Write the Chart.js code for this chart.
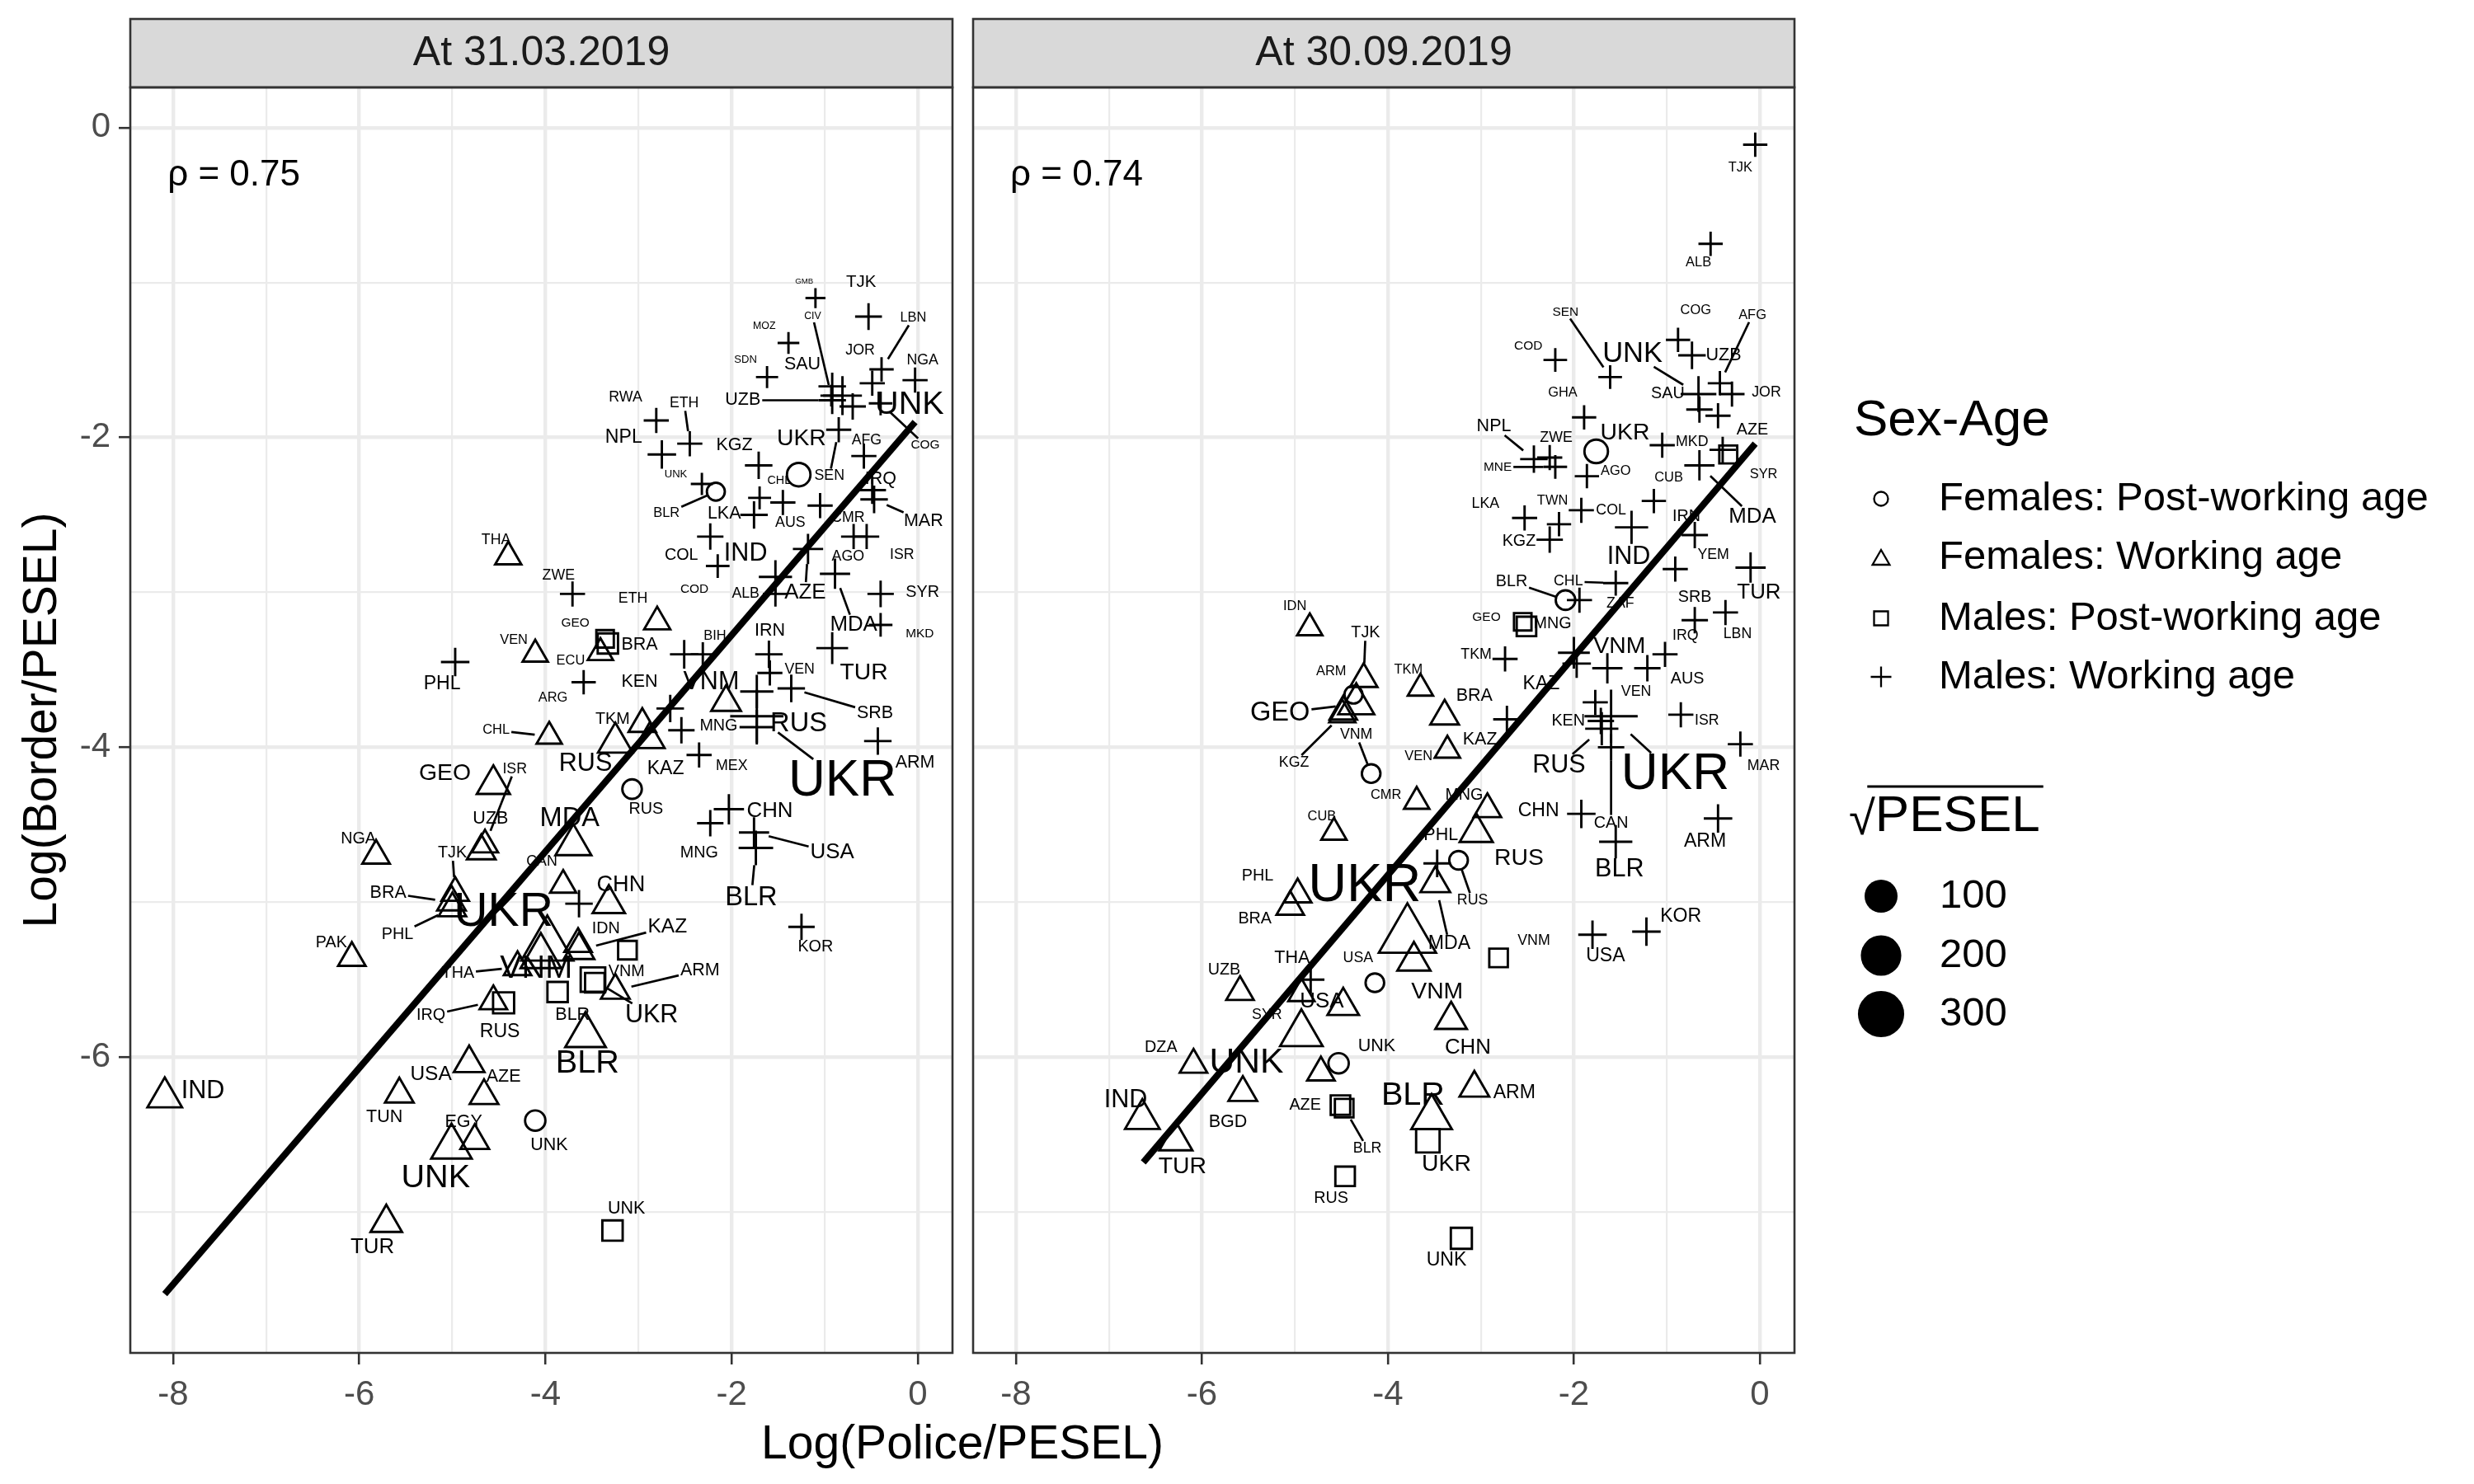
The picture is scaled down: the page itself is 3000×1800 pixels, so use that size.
<!DOCTYPE html>
<html>
<head>
<meta charset="utf-8">
<script src="https://cdn.jsdelivr.net/npm/chart.js@4.4.1/dist/chart.umd.min.js"></script>
<style>
  html, body { margin: 0; padding: 0; background: #ffffff; }
  #wrap { position: relative; width: 3000px; height: 1800px; background: #ffffff; }
  #wrap canvas { position: absolute; left: 0; top: 0; width: 3000px; height: 1800px; }
</style>
</head>
<body>
<div id="wrap">
  <canvas id="march" width="3000" height="1800"></canvas>
  <canvas id="sept" width="3000" height="1800"></canvas>
</div>
<script>
const FONT = '"Liberation Sans", Arial, Helvetica, sans-serif';

const panelTitles = ['At 31.03.2019', 'At 30.09.2019'];
const rhoLabels = ['\u03C1 = 0.75', '\u03C1 = 0.74'];
const groupNames = ['Females: Post-working age', 'Females: Working age', 'Males: Post-working age', 'Males: Working age'];
const groupShapes = ['circle', 'triangle', 'rect', 'cross'];
const xTicks = [-8, -6, -4, -2, 0];
const yTicks = [0, -2, -4, -6];
const sizeBreaks = [100, 200, 300];

// [country, log(police/pesel), log(border/pesel), sqrt(pesel), label x, label y]
const marFemPost = [
  ['UKR', -1.28, -2.24, 50, -1.25, -2.01],
  ['BLR', -2.17, -2.35, 12, -2.70, -2.49],
  ['RUS', -3.07, -4.27, 20, -2.92, -4.40],
  ['UNK', -4.11, -6.41, 25, -3.96, -6.57]
];
const marFemWork = [
  ['THA', -4.40, -2.77, 15, -4.53, -2.66],
  ['ETH', -2.80, -3.19, 15, -3.06, -3.04],
  ['ECU', -3.41, -3.39, 12, -3.73, -3.44],
  ['VEN', -4.11, -3.40, 12, -4.34, -3.31],
  ['', -2.06, -3.71, 30],
  ['TKM', -2.96, -3.85, 20, -3.28, -3.82],
  ['CHL', -3.96, -3.93, 12, -4.53, -3.89],
  ['RUS', -3.25, -3.97, 60, -3.57, -4.11],
  ['KAZ', -2.88, -3.95, 30, -2.71, -4.14],
  ['GEO', -4.56, -4.24, 50, -5.08, -4.17],
  ['ISR', -4.65, -4.63, 15, -4.33, -4.14],
  ['UZB', -4.69, -4.67, 25, -4.59, -4.46],
  ['MDA', -3.70, -4.63, 70, -3.74, -4.46],
  ['NGA', -5.82, -4.70, 20, -6.01, -4.59],
  ['TJK', -4.97, -4.94, 20, -5.00, -4.68],
  ['CAN', -3.81, -4.89, 15, -4.04, -4.74],
  ['CHN', -3.32, -5.01, 45, -3.19, -4.89],
  ['BRA', -5.01, -5.00, 25, -5.69, -4.94],
  ['PHL', -5.00, -5.04, 20, -5.59, -5.21],
  ['UKR', -3.98, -5.28, 250, -4.45, -5.07],
  ['PAK', -6.08, -5.36, 20, -6.30, -5.26],
  ['IDN', -3.65, -5.27, 20, -3.35, -5.17],
  ['KAZ', -3.64, -5.31, 35, -2.69, -5.16],
  ['THA', -4.30, -5.42, 20, -4.94, -5.46],
  ['VNM', -4.05, -5.35, 110, -4.10, -5.43],
  ['ARM', -3.25, -5.57, 25, -2.34, -5.44],
  ['IRQ', -4.56, -5.64, 20, -5.23, -5.73],
  ['BLR', -3.57, -5.86, 110, -3.55, -6.04],
  ['USA', -4.82, -6.04, 35, -5.23, -6.11],
  ['AZE', -4.66, -6.25, 25, -4.45, -6.13],
  ['IND', -8.09, -6.26, 60, -7.68, -6.22],
  ['TUN', -5.57, -6.24, 25, -5.73, -6.39],
  ['EGY', -4.76, -6.54, 25, -4.88, -6.42],
  ['UNK', -5.01, -6.58, 110, -5.18, -6.78],
  ['TUR', -5.71, -7.07, 40, -5.86, -7.23]
];
const marMalePost = [
  ['BRA', -3.33, -3.33, 25, -2.99, -3.34],
  ['GEO', -3.36, -3.30, 10, -3.68, -3.20],
  ['', -3.12, -5.31, 15],
  ['UKR', -3.49, -5.50, 60, -2.86, -5.73],
  ['VNM', -3.47, -5.52, 20, -3.13, -5.45],
  ['BLR', -3.87, -5.58, 25, -3.71, -5.73],
  ['RUS', -4.45, -5.65, 30, -4.49, -5.84],
  ['UNK', -3.28, -7.12, 25, -3.13, -6.98]
];
const marMaleWork = [
  ['GMB', -1.10, -1.10, 2, -1.22, -0.99],
  ['TJK', -0.53, -1.22, 22, -0.61, -1.00],
  ['MOZ', -1.39, -1.39, 5, -1.65, -1.28],
  ['SDN', -1.62, -1.61, 6, -1.85, -1.50],
  ['SAU', -0.92, -1.67, 25, -1.24, -1.53],
  ['CIV', -0.93, -1.73, 5, -1.13, -1.22],
  ['JOR', -0.49, -1.65, 15, -0.62, -1.44],
  ['LBN', -0.39, -1.56, 12, -0.05, -1.23],
  ['NGA', -0.03, -1.63, 15, 0.05, -1.50],
  ['UZB', -0.92, -1.76, 25, -1.88, -1.76],
  ['UNK', -0.81, -1.73, 110, -0.09, -1.79],
  ['COG', -0.40, -1.78, 10, 0.08, -2.05],
  ['', -0.70, -1.80, 20],
  ['RWA', -2.81, -1.89, 15, -3.14, -1.74],
  ['ETH', -2.45, -2.04, 15, -2.51, -1.78],
  ['NPL', -2.75, -2.11, 30, -3.16, -2.00],
  ['KGZ', -1.71, -2.18, 25, -1.97, -2.05],
  ['SEN', -0.85, -1.95, 15, -0.95, -2.25],
  ['AFG', -0.58, -2.12, 15, -0.55, -2.02],
  ['IRQ', -0.49, -2.34, 25, -0.40, -2.27],
  ['MAR', -0.47, -2.40, 25, 0.06, -2.54],
  ['UNK', -2.32, -2.30, 6, -2.60, -2.24],
  ['CHL', -1.70, -2.39, 8, -1.49, -2.28],
  ['LKA', -1.76, -2.50, 25, -2.08, -2.49],
  ['AUS', -1.45, -2.42, 15, -1.37, -2.55],
  ['CMR', -1.05, -2.44, 15, -0.75, -2.52],
  ['AGO', -0.69, -2.64, 15, -0.75, -2.77],
  ['ISR', -0.55, -2.64, 15, -0.17, -2.76],
  ['COL', -2.23, -2.64, 20, -2.54, -2.76],
  ['COD', -2.15, -2.83, 10, -2.40, -2.98],
  ['IND', -1.53, -2.90, 60, -1.85, -2.75],
  ['AZE', -1.18, -2.72, 40, -1.21, -3.00],
  ['ALB', -1.53, -3.01, 15, -1.85, -3.01],
  ['MDA', -0.89, -2.88, 40, -0.69, -3.21],
  ['SYR', -0.40, -3.01, 20, 0.05, -3.00],
  ['MKD', -0.40, -3.21, 10, 0.02, -3.27],
  ['ZWE', -3.71, -3.01, 15, -3.86, -2.89],
  ['PHL', -4.97, -3.45, 30, -5.11, -3.59],
  ['ARG', -3.59, -3.58, 12, -3.92, -3.68],
  ['BIH', -2.31, -3.40, 12, -2.18, -3.28],
  ['', -2.51, -3.40, 30],
  ['KEN', -2.66, -3.75, 25, -2.99, -3.58],
  ['IRN', -1.60, -3.40, 25, -1.59, -3.25],
  ['TUR', -0.92, -3.36, 50, -0.58, -3.52],
  ['VNM', -1.73, -3.64, 60, -2.22, -3.58],
  ['VEN', -1.59, -3.52, 15, -1.27, -3.50],
  ['SRB', -1.36, -3.62, 25, -0.46, -3.78],
  ['MNG', -2.54, -3.89, 20, -2.14, -3.86],
  ['RUS', -1.73, -3.87, 70, -1.28, -3.85],
  ['UKR', -1.73, -3.80, 300, -0.81, -4.22],
  ['ARM', -0.43, -3.96, 25, -0.03, -4.10],
  ['MEX', -2.35, -4.05, 15, -2.00, -4.12],
  ['CHN', -2.03, -4.40, 40, -1.59, -4.41],
  ['MNG', -2.23, -4.49, 20, -2.35, -4.68],
  ['USA', -1.76, -4.55, 40, -0.92, -4.68],
  ['BLR', -1.74, -4.65, 70, -1.79, -4.97],
  ['KOR', -1.25, -5.16, 20, -1.10, -5.29],
  ['', -3.64, -5.01, 25]
];

const sepFemPost = [
  ['UKR', -1.76, -2.09, 50, -1.45, -1.97],
  ['BLR', -2.09, -3.05, 20, -2.67, -2.93],
  ['ARM', -4.37, -3.66, 12, -4.61, -3.51],
  ['VNM', -4.18, -4.17, 15, -4.34, -3.92],
  ['RUS', -3.24, -4.73, 15, -3.09, -4.99],
  ['USA', -4.14, -5.52, 15, -4.32, -5.36],
  ['UNK', -4.53, -6.04, 25, -4.12, -5.93]
];
const sepFemWork = [
  ['IDN', -4.84, -3.23, 12, -5.00, -3.09],
  ['TJK', -4.26, -3.56, 20, -4.24, -3.26],
  ['GEO', -4.34, -3.72, 70, -5.16, -3.78],
  ['', -4.48, -3.77, 20],
  ['KGZ', -4.49, -3.79, 15, -5.01, -4.10],
  ['TKM', -3.65, -3.62, 12, -3.78, -3.50],
  ['BRA', -3.39, -3.80, 25, -3.07, -3.67],
  ['VEN', -3.36, -4.02, 12, -3.67, -4.06],
  ['CMR', -3.69, -4.35, 12, -4.02, -4.31],
  ['MNG', -2.93, -4.40, 20, -3.18, -4.31],
  ['RUS', -3.05, -4.55, 50, -2.59, -4.72],
  ['CUB', -4.58, -4.55, 12, -4.71, -4.45],
  ['MDA', -3.49, -4.88, 30, -3.34, -5.27],
  ['PHL', -4.97, -4.95, 20, -5.40, -4.83],
  ['BRA', -5.05, -5.03, 20, -5.43, -5.11],
  ['UKR', -3.79, -5.22, 330, -4.25, -4.90],
  ['VNM', -3.72, -5.38, 50, -3.47, -5.58],
  ['UZB', -5.59, -5.58, 20, -5.76, -5.44],
  ['SYR', -4.93, -5.59, 15, -5.30, -5.73],
  ['USA', -4.48, -5.67, 40, -4.71, -5.64],
  ['CHN', -3.32, -5.76, 40, -3.14, -5.94],
  ['UNK', -4.93, -5.85, 130, -5.52, -6.04],
  ['DZA', -6.09, -6.05, 20, -6.44, -5.94],
  ['', -4.72, -6.10, 20],
  ['ARM', -3.07, -6.20, 30, -2.64, -6.23],
  ['BGD', -5.56, -6.23, 25, -5.72, -6.42],
  ['BLR', -3.53, -6.39, 110, -3.73, -6.25],
  ['IND', -6.64, -6.40, 60, -6.82, -6.28],
  ['TUR', -6.28, -6.54, 50, -6.21, -6.71]
];
const sepMalePost = [
  ['SYR', -0.34, -2.11, 12, 0.04, -2.24],
  ['GEO', -2.55, -3.19, 10, -2.94, -3.16],
  ['MNG', -2.51, -3.22, 20, -2.23, -3.20],
  ['VNM', -2.81, -5.36, 15, -2.43, -5.25],
  ['AZE', -4.51, -6.31, 20, -4.89, -6.31],
  ['BLR', -4.47, -6.33, 15, -4.22, -6.59],
  ['UKR', -3.57, -6.54, 50, -3.37, -6.69],
  ['RUS', -4.46, -6.77, 20, -4.61, -6.91],
  ['UNK', -3.21, -7.17, 30, -3.37, -7.31]
];
const sepMaleWork = [
  ['TJK', -0.05, -0.11, 12, -0.21, -0.26],
  ['ALB', -0.53, -0.75, 12, -0.66, -0.87],
  ['SEN', -1.61, -1.61, 10, -2.09, -1.19],
  ['COG', -0.88, -1.37, 12, -0.69, -1.18],
  ['AFG', -0.43, -1.65, 12, -0.08, -1.21],
  ['UZB', -0.73, -1.47, 25, -0.39, -1.47],
  ['UNK', -0.66, -1.72, 80, -1.37, -1.46],
  ['COD', -2.20, -1.50, 10, -2.49, -1.41],
  ['SAU', -0.65, -1.82, 20, -0.99, -1.72],
  ['JOR', -0.30, -1.72, 15, 0.07, -1.71],
  ['', -0.45, -1.86, 15],
  ['GHA', -1.89, -1.87, 12, -2.12, -1.71],
  ['NPL', -2.43, -2.14, 25, -2.86, -1.93],
  ['ZWE', -2.26, -2.13, 15, -2.19, -2.00],
  ['MNE', -2.20, -2.19, 10, -2.82, -2.19],
  ['AGO', -1.86, -2.25, 12, -1.55, -2.22],
  ['MKD', -1.05, -2.05, 15, -0.73, -2.03],
  ['AZE', -0.40, -2.08, 20, -0.08, -1.95],
  ['MDA', -0.65, -2.18, 40, -0.08, -2.51],
  ['CUB', -1.14, -2.41, 12, -0.98, -2.26],
  ['LKA', -2.53, -2.52, 15, -2.95, -2.43],
  ['TWN', -2.16, -2.56, 12, -2.23, -2.41],
  ['COL', -1.92, -2.47, 15, -1.60, -2.47],
  ['KGZ', -2.26, -2.66, 20, -2.59, -2.67],
  ['IRN', -0.70, -2.63, 20, -0.79, -2.51],
  ['IND', -1.38, -2.58, 60, -1.41, -2.77],
  ['YEM', -0.91, -2.85, 15, -0.50, -2.76],
  ['TUR', -0.10, -2.84, 40, -0.01, -3.00],
  ['CHL', -1.55, -2.94, 15, -2.06, -2.93],
  ['ZAF', -1.94, -3.05, 15, -1.50, -3.07],
  ['SRB', -0.70, -3.18, 20, -0.70, -3.03],
  ['LBN', -0.37, -3.13, 15, -0.24, -3.27],
  ['IRQ', -1.02, -3.40, 15, -0.80, -3.28],
  ['TKM', -2.74, -3.43, 15, -3.05, -3.40],
  ['VNM', -2.00, -3.39, 50, -1.51, -3.35],
  ['KAZ', -1.97, -3.46, 30, -2.35, -3.59],
  ['', -1.64, -3.49, 40],
  ['AUS', -1.21, -3.49, 20, -0.78, -3.56],
  ['VEN', -1.77, -3.71, 15, -1.33, -3.64],
  ['KEN', -1.71, -3.83, 20, -2.06, -3.83],
  ['UKR', -1.60, -3.80, 300, -0.91, -4.18],
  ['ISR', -0.85, -3.79, 15, -0.57, -3.83],
  ['MAR', -0.21, -3.98, 15, 0.04, -4.12],
  ['RUS', -1.70, -3.88, 60, -2.16, -4.12],
  ['CAN', -1.60, -4.00, 20, -1.60, -4.49],
  ['CHN', -1.92, -4.43, 30, -2.38, -4.41],
  ['BLR', -1.55, -4.61, 60, -1.51, -4.79],
  ['ARM', -0.45, -4.46, 30, -0.59, -4.61],
  ['KOR', -1.22, -5.19, 30, -0.85, -5.09],
  ['USA', -1.80, -5.21, 30, -1.66, -5.35],
  ['KAZ', -2.72, -3.82, 25, -3.01, -3.95],
  ['PHL', -3.47, -4.75, 25, -3.43, -4.57],
  ['THA', -4.83, -5.50, 25, -5.03, -5.36]
];

// fitted lines (ends)
const marFitX = [-8.09, -0.03];
const marFitY = [-7.53, -1.90];
const sepFitX = [-6.63, -0.05];
const sepFitY = [-6.68, -2.04];

const xRange = [-8.46, 0.372];
const yRange = [-7.91, 0.26];
const rhoPos = [-8.06, -0.31];

// mark size ~ sqrt(PESEL)
function baseR(s) { return 9 + 1.1 * Math.sqrt(s); }
const shapeFactor = { circle: 0.85, triangle: 1.38, rect: 1.2, cross: 1.15 };
function markR(s, shape) { return baseR(s) * shapeFactor[shape]; }
function labelFont(s) { return 5 + 3.3 * Math.sqrt(s); }

function drawLabels(chart) {
  const ctx = chart.ctx, xs = chart.scales.x, ys = chart.scales.y;
  const items = [];
  chart.data.datasets.forEach(ds => {
    if (!ds.isGroup) return;
    ds.data.forEach(p => {
      if (!p.code) return;
      const fs = labelFont(p.s);
      ctx.font = fs + 'px ' + FONT;
      items.push({
        code: p.code, fs,
        px: xs.getPixelForValue(p.x), py: ys.getPixelForValue(p.y),
        lx: xs.getPixelForValue(p.lx), ly: ys.getPixelForValue(p.ly),
        w: ctx.measureText(p.code).width / 2 + 2, h: fs * 0.4 + 2,
        mr: markR(p.s, ds.pointStyle)
      });
    });
  });
  ctx.save();
  ctx.strokeStyle = '#000000';
  ctx.lineWidth = 2.7;
  items.forEach(it => {
    const dx = it.px - it.lx, dy = it.py - it.ly, len = Math.hypot(dx, dy);
    if (!len) return;
    const t = Math.min(dx ? it.w / Math.abs(dx) : Infinity, dy ? it.h / Math.abs(dy) : Infinity);
    if (t >= 1) return;
    const segLen = len * (1 - t) - it.mr;
    if (segLen < 18) return;
    ctx.beginPath();
    ctx.moveTo(it.lx + dx * t, it.ly + dy * t);
    ctx.lineTo(it.px - dx / len * it.mr, it.py - dy / len * it.mr);
    ctx.stroke();
  });
  ctx.fillStyle = '#000000';
  ctx.textAlign = 'center';
  ctx.textBaseline = 'middle';
  items.forEach(it => {
    ctx.font = it.fs + 'px ' + FONT;
    ctx.fillText(it.code, it.lx, it.ly);
  });
  ctx.restore();
}

function drawKey(ctx, shape, x, y, r) {
  ctx.beginPath();
  if (shape === 'circle') {
    ctx.arc(x, y, r, 0, Math.PI * 2);
  } else if (shape === 'triangle') {
    ctx.moveTo(x, y - r);
    ctx.lineTo(x + r * 0.866, y + r * 0.5);
    ctx.lineTo(x - r * 0.866, y + r * 0.5);
    ctx.closePath();
  } else if (shape === 'rect') {
    ctx.rect(x - r, y - r, 2 * r, 2 * r);
  } else {
    ctx.moveTo(x - r, y); ctx.lineTo(x + r, y);
    ctx.moveTo(x, y - r); ctx.lineTo(x, y + r);
  }
  ctx.stroke();
}

function drawLegend(ctx) {
  ctx.save();
  ctx.fillStyle = '#000000';
  ctx.strokeStyle = '#000000';
  ctx.textAlign = 'left';
  ctx.textBaseline = 'middle';
  ctx.font = '62px ' + FONT;
  ctx.fillText('Sex-Age', 2248, 511);
  const rowsY = [605, 676, 750, 821];
  const keyR = { circle: 8.5, triangle: 12, rect: 8.5, cross: 12.5 };
  ctx.lineWidth = 2.3;
  groupNames.forEach((name, i) => {
    drawKey(ctx, groupShapes[i], 2281, rowsY[i] + (groupShapes[i] === 'triangle' ? 3 : 0), keyR[groupShapes[i]]);
    ctx.font = '49px ' + FONT;
    ctx.fillText(name, 2351, rowsY[i]);
  });
  // sqrt(PESEL) title
  ctx.font = '58px ' + FONT;
  ctx.fillText('\u221A', 2242, 996);
  const rootW = ctx.measureText('\u221A').width;
  ctx.font = '62px ' + FONT;
  ctx.fillText('PESEL', 2242 + rootW, 991);
  const peselW = ctx.measureText('PESEL').width;
  ctx.lineWidth = 3;
  ctx.beginPath();
  ctx.moveTo(2242 + rootW * 0.7, 954);
  ctx.lineTo(2242 + rootW + peselW + 4, 954);
  ctx.stroke();
  const sizeY = [1087, 1159, 1230];
  sizeBreaks.forEach((v, i) => {
    ctx.beginPath();
    ctx.arc(2281, sizeY[i], baseR(v), 0, Math.PI * 2);
    ctx.fill();
    ctx.font = '49px ' + FONT;
    ctx.fillText(String(v), 2352, sizeY[i]);
  });
  ctx.restore();
}

function facetPlugin(panel) {
  return {
    id: 'facet' + panel,
    beforeDatasetDraw(chart, args) {
      if (!chart.data.datasets[args.index].isGroup) drawLabels(chart);
    },
    afterDraw(chart) {
      const ctx = chart.ctx, a = chart.chartArea;
      ctx.save();
      // strip
      ctx.fillStyle = '#D9D9D9';
      ctx.fillRect(a.left, 23, a.right - a.left, a.top - 23);
      ctx.strokeStyle = '#333333';
      ctx.lineWidth = 2.6;
      ctx.strokeRect(a.left, 23, a.right - a.left, a.top - 23);
      ctx.fillStyle = '#1A1A1A';
      ctx.font = '50px ' + FONT;
      ctx.textAlign = 'center';
      ctx.textBaseline = 'middle';
      ctx.fillText(panelTitles[panel], (a.left + a.right) / 2, (23 + a.top) / 2 + 1);
      // panel border
      ctx.strokeRect(a.left, a.top, a.right - a.left, a.bottom - a.top);
      // rho
      ctx.fillStyle = '#000000';
      ctx.font = '44px ' + FONT;
      ctx.textAlign = 'left';
      ctx.fillText(rhoLabels[panel], chart.scales.x.getPixelForValue(rhoPos[0]), chart.scales.y.getPixelForValue(rhoPos[1]));
      if (panel === 0) {
        ctx.font = '57px ' + FONT;
        ctx.textAlign = 'center';
        ctx.fillText('Log(Police/PESEL)', 1167, 1753);
        ctx.translate(52, (a.top + a.bottom) / 2);
        ctx.rotate(-Math.PI / 2);
        ctx.fillText('Log(Border/PESEL)', 0, 0);
      }
      ctx.restore();
      if (panel === 1) drawLegend(ctx);
    }
  };
}

function buildChart(canvasId, groups, fitX, fitY, panel) {
  const first = panel === 0;
  const datasets = groups.map((rows, g) => ({
    label: groupNames[g],
    isGroup: true,
    data: rows.map(r => ({ code: r[0], x: r[1], y: r[2], s: r[3], lx: r.length > 4 ? r[4] : r[1], ly: r.length > 4 ? r[5] : r[2] })),
    pointStyle: groupShapes[g],
    pointRadius: c => markR(c.raw.s, groupShapes[g]),
    pointHoverRadius: c => markR(c.raw.s, groupShapes[g]),
    pointBorderColor: '#000000',
    pointBackgroundColor: 'rgba(0,0,0,0)',
    pointBorderWidth: 2.9,
    borderColor: '#000000',
    backgroundColor: 'rgba(0,0,0,0)',
    order: 1
  }));
  datasets.push({
    label: 'fit',
    isGroup: false,
    data: fitX.map((x, i) => ({ x, y: fitY[i] })),
    showLine: true,
    borderColor: '#000000',
    borderWidth: 8,
    pointRadius: 0,
    pointHoverRadius: 0,
    order: 0
  });
  const gridOpts = (isY) => ({
    color: '#EBEBEB',
    lineWidth: c => (c.tick && c.tick.value % 2 === 0) ? 4.4 : 2.2,
    drawTicks: !isY || first,
    tickLength: 14,
    tickWidth: 2.6,
    tickColor: c => (c.tick && c.tick.value % 2 === 0) ? '#333333' : 'rgba(0,0,0,0)'
  });
  return new Chart(document.getElementById(canvasId), {
    type: 'scatter',
    data: { datasets },
    options: {
      responsive: false,
      animation: false,
      devicePixelRatio: 1,
      events: [],
      layout: { padding: { top: 106, left: first ? 0 : 1180, right: first ? 1845 : 824, bottom: 0 } },
      plugins: { legend: { display: false }, tooltip: { enabled: false } },
      scales: {
        x: {
          type: 'linear', min: xRange[0], max: xRange[1],
          afterFit: s => { s.height = 159; },
          border: { display: false },
          grid: gridOpts(false),
          ticks: {
            stepSize: 1, includeBounds: false, autoSkip: false, maxRotation: 0, minRotation: 0,
            padding: 12, color: '#4D4D4D', font: { family: FONT, size: 42 },
            callback: v => xTicks.includes(v) ? String(v) : ''
          }
        },
        y: {
          type: 'linear', position: 'left', min: yRange[0], max: yRange[1],
          afterFit: s => { s.width = first ? 158 : 0; },
          border: { display: false },
          grid: gridOpts(true),
          ticks: {
            display: first,
            stepSize: 1, includeBounds: false, autoSkip: false,
            padding: 10, color: '#4D4D4D', font: { family: FONT, size: 42 },
            callback: v => yTicks.includes(v) ? String(v) : ''
          }
        }
      }
    },
    plugins: [facetPlugin(panel)]
  });
}

buildChart('march', [marFemPost, marFemWork, marMalePost, marMaleWork], marFitX, marFitY, 0);
buildChart('sept', [sepFemPost, sepFemWork, sepMalePost, sepMaleWork], sepFitX, sepFitY, 1);
</script>
</body>
</html>
